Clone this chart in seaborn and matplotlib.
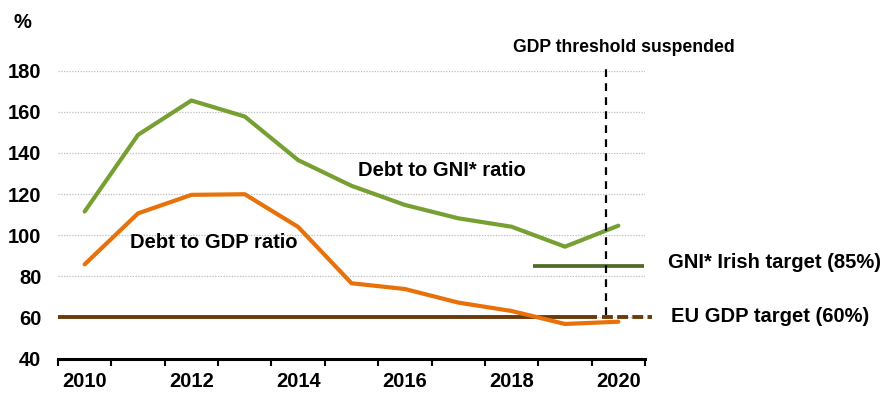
import matplotlib
matplotlib.use("Agg")
import matplotlib.pyplot as plt
import seaborn as sns
import pandas as pd

years = [2010, 2011, 2012, 2013, 2014, 2015, 2016, 2017, 2018, 2019, 2020]
debt_gni = [111.5, 148.8, 165.5, 157.7, 136.5, 124.0, 114.7, 108.2, 104.1, 94.4, 104.6]
debt_gdp = [85.8, 110.6, 119.6, 119.9, 104.0, 76.6, 73.8, 67.2, 63.1, 56.8, 57.9]
eu_target = 60
irish_target = 85
year_labels = ["2010", "2012", "2014", "2016", "2018", "2020"]

sns.set_theme(style="white")
plt.rcParams["font.family"] = ["Liberation Sans", "DejaVu Sans"]
plt.rcParams["font.weight"] = "bold"
plt.rcParams["text.color"] = "black"
plt.rcParams["xtick.color"] = "black"
plt.rcParams["ytick.color"] = "black"

GREEN = "#77a033"
ORANGE = "#e8710a"
DARK_GREEN = "#4e6b28"
BROWN = "#6b3a0c"

df = pd.DataFrame({
    "pos": list(range(len(years))) * 2,
    "value": debt_gni + debt_gdp,
    "series": ["Debt to GNI* ratio"] * len(years) + ["Debt to GDP ratio"] * len(years),
})

fig = plt.figure(figsize=(8.88, 3.94), dpi=100)
ax = fig.add_axes([0.0653, 0.0901, 0.6611, 0.7305])

ax.set_ylim(40, 180)
ax.set_xlim(-0.5, len(years) - 0.5)

# dotted horizontal gridlines
for v in range(60, 181, 20):
    ax.axhline(v, color="#bdbdbd", lw=0.9, ls=(0, (1, 1.2)), zorder=0)

# EU 60% target: solid, then dashed after the threshold is suspended
ax.plot([-0.5, 9.6], [eu_target, eu_target], color=BROWN, lw=2.8, solid_capstyle="butt", zorder=2)
ax.plot([9.7, 10.63], [eu_target, eu_target], color=BROWN, lw=2.8, ls=(0, (2.8, 1.1)),
        clip_on=False, zorder=2)

# Irish GNI* target
ax.plot([8.4, 10.48], [irish_target, irish_target], color=DARK_GREEN, lw=2.7,
        solid_capstyle="butt", zorder=2)

sns.lineplot(data=df, x="pos", y="value", hue="series",
             palette={"Debt to GNI* ratio": GREEN, "Debt to GDP ratio": ORANGE},
             lw=3.0, legend=False, ax=ax, zorder=3)
for line in ax.lines[-2:]:
    line.set_solid_capstyle("round")

# threshold suspended marker
ax.plot([9.77, 9.77], [61, 181.5], color="black", lw=1.6, ls=(0, (3.5, 2.8)),
        clip_on=False, zorder=4)

ax.set_xlabel("")
ax.set_ylabel("")
sns.despine(ax=ax, left=True, top=True, right=True)
ax.spines["bottom"].set_color("black")
ax.spines["bottom"].set_linewidth(2.2)

fs = 14.5

bounds = [i - 0.5 for i in range(len(years) + 1)]
ax.set_xticks(bounds)
ax.set_xticklabels([""] * len(bounds))
ax.tick_params(axis="x", which="major", direction="out", length=5, width=1.5, color="black", bottom=True)
ax.set_xticks([years.index(int(y)) for y in year_labels], minor=True)
ax.set_xticklabels(year_labels, minor=True)
ax.tick_params(axis="x", which="minor", length=0, pad=10, labelsize=fs, labelcolor="black")

ax.set_yticks(range(40, 181, 20))
ax.tick_params(axis="y", length=0, pad=12, labelsize=fs, labelcolor="black")
for t in ax.get_xticklabels(minor=True) + ax.get_yticklabels():
    t.set_fontweight("bold")

fig.text(22 / 888, 1 - 22 / 394, "%", fontsize=fs, fontweight="bold", ha="center", va="center")
fig.text(624 / 888, 1 - 48 / 394, "GDP threshold suspended", fontsize=12.7, fontweight="bold",
         ha="center", va="center")
fig.text(442 / 888, 1 - 170 / 394, "Debt to GNI* ratio", fontsize=fs, fontweight="bold",
         ha="center", va="center")
fig.text(214 / 888, 1 - 243 / 394, "Debt to GDP ratio", fontsize=fs, fontweight="bold",
         ha="center", va="center")
fig.text(668 / 888, 1 - 263 / 394, "GNI* Irish target (85%)", fontsize=fs, fontweight="bold",
         ha="left", va="center")
fig.text(671 / 888, 1 - 316 / 394, "EU GDP target (60%)", fontsize=fs, fontweight="bold",
         ha="left", va="center")

fig.savefig("out.png", dpi=100)
